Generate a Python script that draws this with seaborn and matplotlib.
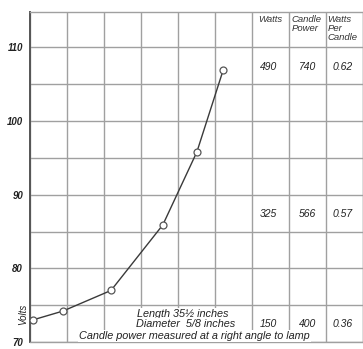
import matplotlib
matplotlib.use("Agg")
import matplotlib.pyplot as plt
import seaborn as sns
import pandas as pd

# Readings taken off the curve (x in chart grid divisions, y in volts)
x_reading = [0.08, 0.89, 2.19, 3.59, 4.51, 5.22]
volts = [73.0, 74.2, 77.0, 85.9, 95.8, 106.9]

# Table at the right side of the sheet
table_headers = ["Watts", "Candle\nPower", "Watts\nPer\nCandle"]
table_rows_volts = [107.3, 87.4, 72.4]
watts = ["490", "325", "150"]
candle_power = ["740", "566", "400"]
watts_per_candle = ["0.62", "0.57", "0.36"]

y_ticks = [70, 80, 90, 100, 110]
notes = ["Length 35½ inches", "Diameter  5/8 inches",
         "Candle power measured at a right angle to lamp"]

sns.set_style("white")
plt.rcParams["font.family"] = ["Liberation Sans", "DejaVu Sans"]

df = pd.DataFrame({"x": x_reading, "volts": volts})

fig = plt.figure(figsize=(3.63, 3.49), dpi=100)
ax = fig.add_axes([30 / 363, 7 / 349, 333 / 363, 330 / 349])

sns.lineplot(data=df, x="x", y="volts", ax=ax, color="#3a3a3a",
             linewidth=1.0, marker="o", markersize=5,
             markerfacecolor="white", markeredgecolor="#555555",
             markeredgewidth=0.9, zorder=5)

ax.set_xlim(0, 9)
ax.set_ylim(70, 114.8)
ax.set_xticks(range(0, 10))
ax.set_yticks(range(70, 115, 5))
ax.set_xticklabels([])
ax.set_yticklabels([str(v) if v in y_ticks else "" for v in range(70, 115, 5)],
                   fontsize=7, fontstyle="italic", fontweight="bold",
                   color="#222222")
ax.tick_params(axis="y", length=3, width=0.8, pad=2, color="#444444")
ax.tick_params(axis="x", length=0)
ax.grid(True, color="#a0a0a0", linewidth=1.0)
ax.set_xlabel("")
ax.set_ylabel("")
for side in ["top", "right", "bottom"]:
    ax.spines[side].set_color("#a0a0a0")
    ax.spines[side].set_linewidth(1.0)
ax.spines["left"].set_color("#555555")
ax.spines["left"].set_linewidth(1.4)

ax.text(-0.022, 73.8, "Volts", transform=ax.get_yaxis_transform(),
        rotation=90, ha="center", va="center", fontsize=7,
        fontstyle="italic", color="#222222")

# table header and values
header_x = [6.5, 7.08, 8.04]
header_ha = ["center", "left", "left"]
for hx, ha, h in zip(header_x, header_ha, table_headers):
    ax.text(hx, 114.4, h, ha=ha, va="top", fontsize=6.8, fontstyle="italic",
            linespacing=1.0, color="#333333")

col_x = [6.45, 7.5, 8.45]
for i, yv in enumerate(table_rows_volts):
    for cx, vals in zip(col_x, [watts, candle_power, watts_per_candle]):
        ax.text(cx, yv, vals[i], ha="center", va="center", fontsize=7.5,
                fontstyle="italic", color="#222222")

# notes written across the bottom of the grid
note_pos = [(4.13, 73.85), (4.2, 72.4), (4.45, 70.8)]
for (nx, ny), t in zip(note_pos, notes):
    ax.text(nx, ny, t, ha="center", va="center", fontsize=7.8,
            fontstyle="italic", color="#222222",
            bbox=dict(facecolor="white", edgecolor="none", pad=0.6), zorder=4)

fig.savefig("out.png", dpi=100)
